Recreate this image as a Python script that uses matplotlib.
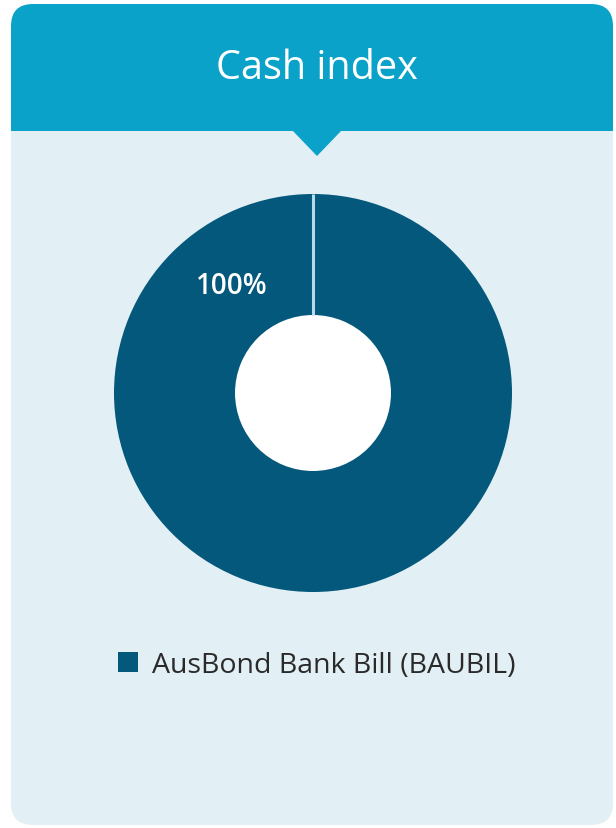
import matplotlib
matplotlib.use("Agg")
import matplotlib.pyplot as plt
import numpy as np
from matplotlib.patches import FancyBboxPatch, Rectangle, Polygon, Circle, Patch

plt.rcParams['font.family'] = ['Open Sans', 'DejaVu Sans']

title = "Cash index"
categories = ["AusBond Bank Bill (BAUBIL)"]
values = [100]
colors = ["#03587b"]

W, H = 616, 829
fig = plt.figure(figsize=(W / 100, H / 100), dpi=100)
fig.patch.set_facecolor("white")

# Card background drawn in pixel coordinates
bg = fig.add_axes([0, 0, 1, 1])
bg.set_xlim(0, W)
bg.set_ylim(H, 0)
bg.axis("off")

header_col = "#0aa2c8"
body_col = "#e2eff5"
L, R, T, B = 11, 613, 5, 826
HB = 132

bg.add_patch(FancyBboxPatch((L, T), R - L, 160, boxstyle="round,pad=0,rounding_size=22",
                            fc=header_col, ec="none"))
bg.add_patch(FancyBboxPatch((L, HB), R - L, B - HB, boxstyle="round,pad=0,rounding_size=22",
                            fc=body_col, ec="none"))
bg.add_patch(Rectangle((L, HB), R - L, 40, fc=body_col, ec="none"))
bg.add_patch(Polygon([(292, HB - 1), (342, HB - 1), (317, 157)], closed=True,
                     fc=header_col, ec="none"))
bg.text(317, 69, title, color="white", fontsize=28.5, ha="center", va="center")

# Donut chart
cx, cy, r = 313, 394, 199
ax = fig.add_axes([(cx - r) / W, (H - cy - r) / H, 2 * r / W, 2 * r / H])
ax.axis("off")
hole = 78 / r
start = 90
ax.add_patch(Circle((0, 0), hole, fc="white", ec="none", zorder=0))
wedges, _ = ax.pie(values, colors=colors, startangle=start, counterclock=False, radius=1,
                   wedgeprops=dict(width=1 - hole, edgecolor="none", linewidth=0))
for w in wedges:
    w.set_zorder(1)
# separator at the start of the ring
a = np.deg2rad(start)
ax.plot([hole * np.cos(a), np.cos(a)], [hole * np.sin(a), np.sin(a)],
        color="#b5dbea", lw=2.2, zorder=2, solid_capstyle="butt")
ax.text(-0.41, 0.54, f"{values[0]:.0f}%", color="white", fontsize=20,
        fontweight="semibold", ha="center", va="center", zorder=3)
ax.set_xlim(-1, 1)
ax.set_ylim(-1, 1)
ax.set_aspect("equal")

# Legend
handles = [Patch(fc=c, ec="none") for c in colors]
fig.legend(handles, categories, loc="center left", bbox_to_anchor=(118 / W, 1 - 666 / H),
           frameon=False, fontsize=20.5, handlelength=0.7, handleheight=0.7,
           handletextpad=0.5, borderpad=0, borderaxespad=0, labelcolor="#2a2a2a")

fig.savefig("out.png", dpi=100, facecolor="white")
